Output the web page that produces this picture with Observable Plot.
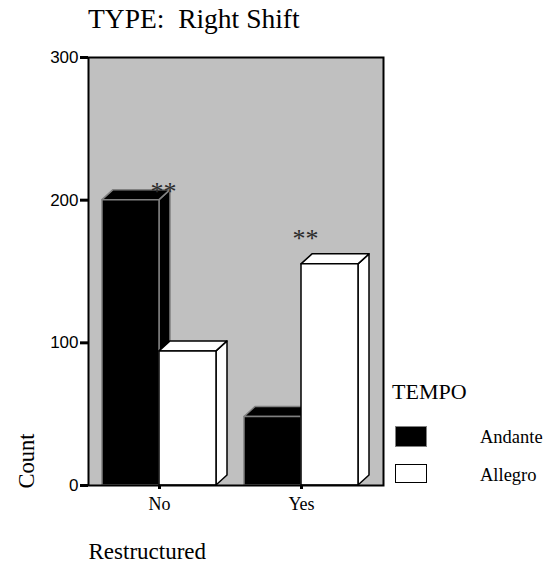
<!DOCTYPE html>
<html><head><meta charset="utf-8">
<script src="https://cdn.jsdelivr.net/npm/d3@7"></script>
<script src="https://cdn.jsdelivr.net/npm/@observablehq/plot@0.6"></script>
<style>
html,body{margin:0;padding:0;background:#fff;}
#chart{position:relative;width:544px;height:562px;overflow:hidden;}
.lbl{position:absolute;font-family:"Liberation Serif","Times New Roman",serif;line-height:1;white-space:pre;color:#000;}
.sw{position:absolute;box-sizing:border-box;width:32px;}
#chart svg{position:absolute;left:0;top:0;}
</style></head><body><div id="chart"></div>
<script>
// ---- data ----
const groups = ["No", "Yes"];
const tempos = ["Andante", "Allegro"];
const andante = [200, 48];
const allegro = [94, 155];
const yTicks = [0, 100, 200, 300];
const sigText = ["**", "**"];
const sigLevel = [200, 167];
const titleText = "TYPE:  Right Shift";
const xTitle = "Restructured";
const yTitle = "Count";
const legendTitle = "TEMPO";

const rows = groups.flatMap((g, i) => [
  {group: g, tempo: tempos[0], count: andante[i]},
  {group: g, tempo: tempos[1], count: allegro[i]}
]);
const sig = groups.map((g, i) => ({group: g, y: sigLevel[i], t: sigText[i]}));

const fillOf = {Andante: "#000", Allegro: "#fff"};
const strokeOf = {Andante: "#808080", Allegro: "#000"};
const serif = "Liberation Serif, Times New Roman, serif";
const DX = 11, DY = 10;

function draw3d(index, scales) {
  const sx = scales.x, sy = scales.y;
  const bw = typeof sx.bandwidth === "function" ? sx.bandwidth() : sx.bandwidth;
  const sub = d3.scaleBand().domain(tempos).range([0, bw]);
  const g = d3.create("svg:g");
  const order = Array.from(index).sort((a, b) =>
    (sx(rows[a].group) + sub(rows[a].tempo)) - (sx(rows[b].group) + sub(rows[b].tempo)));
  for (const i of order) {
    const d = rows[i];
    const x1 = sx(d.group) + sub(d.tempo), x2 = x1 + sub.bandwidth();
    const yt = sy(d.count), yb = sy(0);
    const f = fillOf[d.tempo], s = strokeOf[d.tempo];
    const poly = (pts) => g.append("path")
      .attr("d", "M" + pts.map(p => p.join(",")).join("L") + "Z")
      .attr("fill", f).attr("stroke", s).attr("stroke-width", 1.5).attr("stroke-linejoin", "round");
    poly([[x2, yb], [x2 + DX, yb - DY], [x2 + DX, yt - DY], [x2, yt]]);
    poly([[x1, yt], [x1 + DX, yt - DY], [x2 + DX, yt - DY], [x2, yt]]);
    poly([[x1, yb], [x1, yt], [x2, yt], [x2, yb]]);
  }
  return g.node();
}

const plot = Plot.plot({
  width: 544, height: 562,
  marginLeft: 88, marginRight: 161, marginTop: 57, marginBottom: 77,
  style: {background: "transparent", overflow: "visible"},
  x: {type: "band", domain: groups, paddingInner: 0.197, paddingOuter: 0.137, align: 0.36},
  y: {domain: [0, 300]},
  marks: [
    Plot.frame({fill: "#c0c0c0"}),
    Plot.barY(rows, {x: "group", y1: 0, y2: "count", render: draw3d}),
    Plot.text(sig, {x: "group", y: "y", text: "t", dx: 4, lineAnchor: "bottom",
      fontSize: 26, fontFamily: serif, fill: "#2a2a2a"}),
    Plot.frame({stroke: "#000", strokeWidth: 2}),
    Plot.axisY({ticks: yTicks, tickSize: 8, tickPadding: 2, strokeWidth: 3,
      fontSize: 17, fontFamily: "Liberation Sans, Arial, sans-serif", label: null}),
    Plot.axisX({tickSize: 4, tickPadding: 8, strokeWidth: 3, fontSize: 18,
      fontFamily: serif, label: null}),
    Plot.text([xTitle], {frameAnchor: "bottom-left", dy: 73, textAnchor: "start",
      lineAnchor: "bottom", fontSize: 23, fontFamily: serif}),
    Plot.text([yTitle], {frameAnchor: "bottom-left", rotate: -90, dx: -55, dy: 3,
      textAnchor: "start", lineAnchor: "bottom", fontSize: 22.5, fontFamily: serif})
  ]
});

const chart = document.getElementById("chart");
chart.appendChild(plot);

function label(text, left, top, size) {
  const el = document.createElement("div");
  el.className = "lbl";
  el.textContent = text;
  el.style.left = left + "px";
  el.style.top = top + "px";
  el.style.fontSize = size + "px";
  chart.appendChild(el);
}
function swatch(left, top, h, fill, stroke) {
  const el = document.createElement("div");
  el.className = "sw";
  el.style.left = left + "px";
  el.style.top = top + "px";
  el.style.height = h + "px";
  el.style.background = fill;
  el.style.border = "1.5px solid " + stroke;
  chart.appendChild(el);
}
label(titleText, 88, 5, 27.5);
label(legendTitle, 392, 380.5, 22);
swatch(395, 426, 21, fillOf[tempos[0]], strokeOf[tempos[0]]);
swatch(395, 464, 19, fillOf[tempos[1]], strokeOf[tempos[1]]);
label(tempos[0], 480, 427.5, 18.5);
label(tempos[1], 480, 465.5, 18.5);
</script></body></html>
